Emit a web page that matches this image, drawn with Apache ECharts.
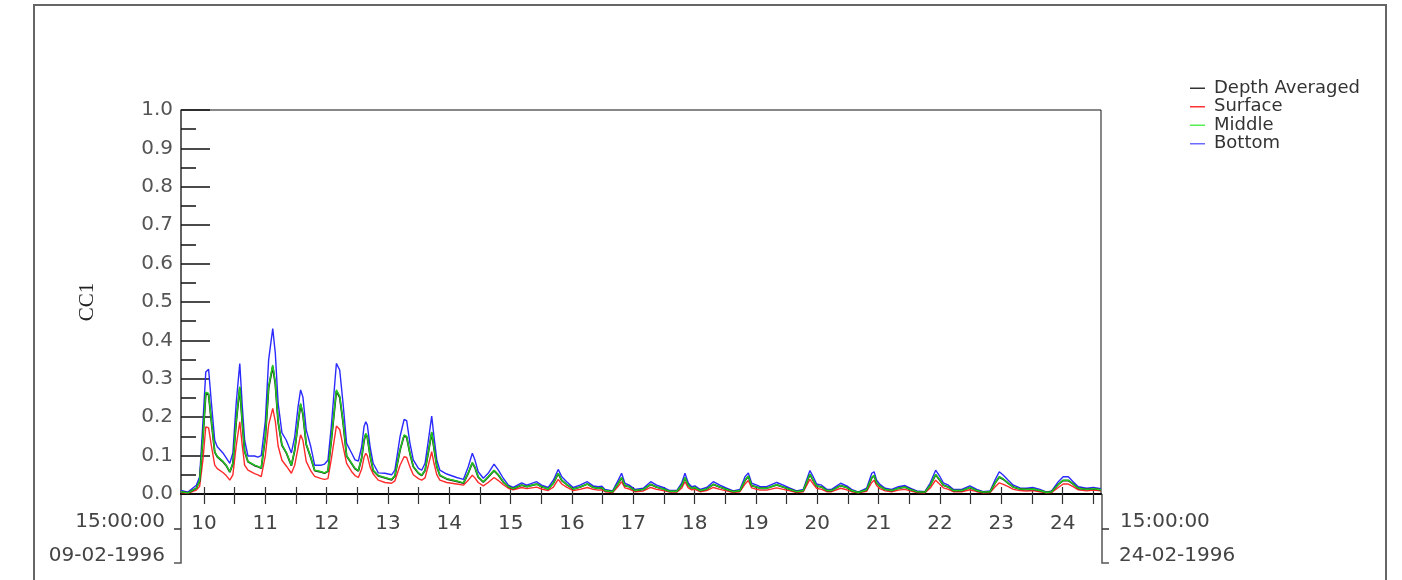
<!DOCTYPE html>
<html><head><meta charset="utf-8">
<script src="https://cdn.jsdelivr.net/npm/echarts@6/dist/echarts.min.js"></script>
<style>html,body{margin:0;padding:0;background:#fff}#c{width:1402px;height:580px}</style>
</head><body><div id="c"></div>
<script>
// hours since 09-02-1996 15:00:00
const hours = [0,2.7,6.0,7.3,8.6,9.7,10.8,11.9,13.2,14.2,
16.4,17.7,19.1,20.3,21.6,23.0,24.0,24.9,26.2,28.8,
30.1,31.4,33.0,34.3,35.9,36.9,38.0,39.5,41.2,43.2,
44.5,45.8,46.8,47.7,49.0,50.8,52.3,54.9,56.2,57.5,
58.8,60.8,62.1,63.4,64.8,66.8,68.1,69.4,70.7,71.6,
72.3,72.9,74.0,75.2,77.2,79.8,82.4,83.7,85.7,87.3,
88.3,89.6,90.9,92.9,94.2,95.5,96.8,98.1,99.0,100.1,
101.3,104.0,107.9,110.5,112.4,114.0,115.0,116.3,118.3,120.2,
122.5,124.2,126.1,128.1,130.0,133.3,135.3,139.2,141.1,143.7,
145.7,147.6,149.0,150.9,153.5,156.1,159.0,161.3,163.3,164.7,
165.9,168.9,171.1,172.4,173.7,175.4,176.1,177.6,180.9,183.8,
186.1,188.7,191.3,194.0,195.9,197.2,198.5,199.8,201.1,203.1,
205.7,208.3,210.9,213.5,216.1,218.7,220.7,222.0,223.3,225.3,
226.6,229.2,233.1,235.7,238.3,240.9,243.5,246.1,247.4,248.7,
250.7,252.7,254.6,258.1,260.5,262.4,265.0,268.3,270.3,271.2,
272.2,273.5,275.5,278.1,280.7,283.3,285.3,287.9,291.1,293.1,
295.3,297.0,298.3,300.3,302.2,305.5,308.7,311.4,313.9,316.6,
318.5,320.2,321.8,323.7,325.7,328.3,330.9,333.3,336.1,338.7,
340.7,343.3,345.2,347.2,349.1,351.1,354.4,357.0,360];

const bottomVals = [0.009,0.005,0.023,0.045,0.190,0.318,0.325,0.237,0.140,0.123,
0.107,0.094,0.080,0.107,0.237,0.340,0.227,0.140,0.099,0.099,
0.096,0.100,0.190,0.350,0.431,0.367,0.237,0.159,0.140,0.107,
0.149,0.227,0.271,0.253,0.167,0.123,0.075,0.075,0.078,0.088,
0.175,0.340,0.323,0.237,0.132,0.106,0.089,0.086,0.123,0.175,
0.188,0.180,0.123,0.080,0.055,0.054,0.050,0.062,0.149,0.194,
0.191,0.132,0.089,0.067,0.062,0.080,0.140,0.203,0.149,0.089,
0.062,0.052,0.043,0.038,0.071,0.106,0.089,0.058,0.041,0.054,
0.078,0.062,0.041,0.023,0.017,0.029,0.023,0.032,0.023,0.017,
0.036,0.064,0.045,0.032,0.017,0.023,0.032,0.021,0.019,0.020,
0.012,0.008,0.036,0.054,0.028,0.023,0.026,0.012,0.015,0.032,
0.023,0.017,0.009,0.009,0.028,0.054,0.029,0.019,0.021,0.012,
0.017,0.032,0.023,0.015,0.008,0.012,0.045,0.055,0.028,0.023,
0.019,0.019,0.030,0.023,0.015,0.008,0.012,0.061,0.045,0.026,
0.023,0.012,0.012,0.028,0.021,0.012,0.005,0.015,0.054,0.058,
0.036,0.025,0.015,0.012,0.019,0.022,0.015,0.008,0.006,0.028,
0.062,0.045,0.029,0.023,0.012,0.012,0.021,0.012,0.006,0.008,
0.036,0.058,0.049,0.036,0.023,0.016,0.015,0.017,0.012,0.005,
0.008,0.032,0.045,0.045,0.032,0.019,0.015,0.017,0.014];

const middleVals = [0.006,0.003,0.015,0.035,0.150,0.265,0.262,0.190,0.110,0.098,
0.085,0.075,0.058,0.080,0.190,0.280,0.185,0.112,0.085,0.075,
0.072,0.068,0.150,0.280,0.336,0.290,0.190,0.128,0.108,0.075,
0.115,0.185,0.236,0.210,0.130,0.095,0.062,0.058,0.055,0.060,
0.140,0.271,0.255,0.190,0.100,0.080,0.067,0.061,0.095,0.140,
0.158,0.150,0.100,0.062,0.048,0.043,0.038,0.048,0.115,0.154,
0.150,0.106,0.072,0.055,0.049,0.062,0.110,0.162,0.120,0.072,
0.049,0.040,0.034,0.029,0.055,0.082,0.070,0.045,0.032,0.045,
0.062,0.050,0.032,0.019,0.014,0.023,0.019,0.026,0.019,0.013,
0.028,0.054,0.036,0.025,0.013,0.018,0.026,0.017,0.015,0.016,
0.009,0.006,0.028,0.043,0.022,0.019,0.021,0.009,0.012,0.025,
0.018,0.013,0.007,0.007,0.022,0.043,0.023,0.015,0.017,0.009,
0.013,0.025,0.018,0.012,0.006,0.009,0.036,0.047,0.022,0.018,
0.015,0.015,0.024,0.018,0.012,0.006,0.009,0.052,0.036,0.021,
0.018,0.009,0.009,0.022,0.017,0.009,0.004,0.011,0.043,0.049,
0.029,0.020,0.012,0.009,0.015,0.018,0.012,0.006,0.005,0.022,
0.051,0.036,0.023,0.018,0.009,0.009,0.017,0.009,0.005,0.006,
0.028,0.045,0.039,0.028,0.018,0.013,0.012,0.013,0.009,0.004,
0.006,0.025,0.036,0.036,0.026,0.015,0.012,0.014,0.011];

const surfaceVals = [0.004,0.002,0.010,0.020,0.090,0.175,0.172,0.125,0.075,0.066,
0.056,0.048,0.036,0.050,0.125,0.188,0.125,0.075,0.062,0.053,
0.050,0.045,0.100,0.180,0.223,0.190,0.125,0.088,0.073,0.054,
0.075,0.120,0.154,0.140,0.085,0.060,0.046,0.040,0.038,0.040,
0.090,0.177,0.168,0.125,0.080,0.058,0.048,0.043,0.065,0.095,
0.106,0.100,0.070,0.052,0.036,0.030,0.028,0.034,0.075,0.097,
0.095,0.070,0.050,0.040,0.036,0.042,0.075,0.110,0.080,0.050,
0.036,0.030,0.026,0.023,0.036,0.049,0.042,0.030,0.021,0.030,
0.043,0.035,0.024,0.015,0.011,0.017,0.014,0.018,0.013,0.009,
0.018,0.038,0.026,0.018,0.009,0.012,0.017,0.012,0.010,0.011,
0.006,0.004,0.020,0.032,0.016,0.013,0.015,0.006,0.008,0.017,
0.012,0.009,0.005,0.005,0.015,0.032,0.016,0.011,0.012,0.006,
0.009,0.017,0.012,0.008,0.004,0.006,0.026,0.035,0.016,0.012,
0.010,0.010,0.016,0.012,0.008,0.004,0.006,0.038,0.026,0.015,
0.012,0.006,0.006,0.015,0.011,0.006,0.003,0.007,0.030,0.036,
0.022,0.014,0.008,0.006,0.010,0.012,0.008,0.004,0.003,0.015,
0.036,0.025,0.016,0.012,0.006,0.006,0.011,0.006,0.003,0.004,
0.018,0.029,0.025,0.019,0.012,0.009,0.008,0.009,0.006,0.003,
0.004,0.017,0.026,0.026,0.019,0.011,0.008,0.010,0.008];

const depthAvgVals = [0.006,0.003,0.015,0.034,0.148,0.262,0.259,0.188,0.109,0.097,
0.084,0.074,0.057,0.079,0.188,0.277,0.183,0.111,0.084,0.074,
0.071,0.067,0.148,0.277,0.332,0.287,0.188,0.127,0.107,0.074,
0.114,0.183,0.233,0.208,0.129,0.094,0.061,0.057,0.054,0.059,
0.138,0.268,0.252,0.188,0.099,0.079,0.066,0.060,0.094,0.138,
0.156,0.148,0.099,0.061,0.047,0.042,0.037,0.047,0.114,0.152,
0.148,0.105,0.071,0.054,0.048,0.061,0.109,0.160,0.119,0.071,
0.048,0.039,0.033,0.028,0.054,0.081,0.069,0.044,0.031,0.044,
0.061,0.049,0.031,0.019,0.014,0.023,0.019,0.026,0.019,0.013,
0.028,0.053,0.035,0.025,0.013,0.018,0.026,0.017,0.015,0.016,
0.009,0.006,0.028,0.042,0.022,0.019,0.021,0.009,0.012,0.025,
0.018,0.013,0.007,0.007,0.022,0.042,0.023,0.015,0.017,0.009,
0.013,0.025,0.018,0.012,0.006,0.009,0.035,0.046,0.022,0.018,
0.015,0.015,0.024,0.018,0.012,0.006,0.009,0.051,0.035,0.021,
0.018,0.009,0.009,0.022,0.017,0.009,0.004,0.011,0.042,0.048,
0.029,0.020,0.012,0.009,0.015,0.018,0.012,0.006,0.005,0.022,
0.050,0.035,0.023,0.018,0.009,0.009,0.017,0.009,0.005,0.006,
0.028,0.044,0.038,0.028,0.018,0.013,0.012,0.013,0.009,0.004,
0.006,0.025,0.035,0.035,0.026,0.015,0.012,0.014,0.011];

// x-axis: ticks every 12 h (midnight / noon), day labels at midnight
const tickHours = [9,21,33,45,57,69,81,93,105,117,129,141,153,165,177,189,201,213,225,237,249,261,273,285,297,309,321,333,345,357];
const labelHours = [9,33,57,81,105,129,153,177,201,225,249,273,297,321,345];
const dayLabels = ['10','11','12','13','14','15','16','17','18','19','20','21','22','23','24'];
const startLabels = ['15:00:00','09-02-1996'];
const endLabels = ['15:00:00','24-02-1996'];
const seriesNames = ['Depth Averaged','Surface','Middle','Bottom'];

const pair = arr => hours.map((h, i) => [h, arr[i]]);
const FONT = 'DejaVu Sans';

const chart = echarts.init(document.getElementById('c'), null, {renderer: 'canvas'});
const gl = 181, gt = 110, gw = 920, gh = 384;
const gb = gt + gh, gr = gl + gw;

chart.setOption({
  animation: false,
  backgroundColor: '#fff',
  grid: {left: gl, top: gt, width: gw, height: gh, show: true, borderColor: '#111', borderWidth: 1, containLabel: false},
  legend: {
    orient: 'vertical', left: 1185, top: 74, itemGap: 0,
    itemWidth: 15, itemHeight: 1.5, icon: 'rect',
    textStyle: {fontFamily: FONT, fontSize: 18, color: '#333', lineHeight: 18.5, padding: [0,0,0,4]},
    data: seriesNames
  },
  xAxis: [{
    type: 'value', min: 0, max: 360, position: 'bottom',
    axisLine: {show: true, onZero: false, lineStyle: {color: '#000', width: 2}},
    axisTick: {show: true, length: 10, customValues: tickHours, lineStyle: {color: '#333', width: 1.2}},
    axisLabel: {show: true, customValues: labelHours, margin: 20, fontFamily: FONT, fontSize: 20, color: '#444',
      formatter: v => dayLabels[labelHours.indexOf(Math.round(v))] || ''},
    splitLine: {show: false}
  }, {
    type: 'value', min: 0, max: 360, position: 'bottom', gridIndex: 0,
    axisLine: {show: false},
    axisTick: {show: true, inside: true, length: 7, customValues: tickHours, lineStyle: {color: '#333', width: 1.2}},
    axisLabel: {show: false},
    splitLine: {show: false}
  }],
  yAxis: {
    type: 'value', min: 0, max: 1, interval: 0.1,
    name: 'CC1', nameLocation: 'middle', nameRotate: 90, nameGap: 83,
    nameTextStyle: {fontFamily: 'Liberation Serif', fontSize: 21, color: '#222'},
    axisLine: {show: true, lineStyle: {color: '#555', width: 1.5}},
    axisTick: {show: true, inside: true, length: 29, lineStyle: {color: '#111', width: 1.5}},
    minorTick: {show: true, splitNumber: 2, length: 15, lineStyle: {color: '#111', width: 1.5}},
    axisLabel: {margin: 8, fontFamily: FONT, fontSize: 20, color: '#555', formatter: v => v.toFixed(1)},
    splitLine: {show: false}
  },
  series: [
    {name: 'Depth Averaged', type: 'line', data: pair(depthAvgVals), showSymbol: false, symbol: 'none', z: 3,
     color: '#333', lineStyle: {color: '#222', width: 1.8}},
    {name: 'Surface', type: 'line', data: pair(surfaceVals), showSymbol: false, symbol: 'none', z: 2,
     color: '#ff3333', lineStyle: {color: '#ff2a2a', width: 1.4}},
    {name: 'Middle', type: 'line', data: pair(middleVals), showSymbol: false, symbol: 'none', z: 4,
     color: '#55ee55', lineStyle: {color: '#1fcc1f', width: 1.4}},
    {name: 'Bottom', type: 'line', data: pair(bottomVals), showSymbol: false, symbol: 'none', z: 2,
     color: '#6a6aff', lineStyle: {color: '#2a2aff', width: 1.4}}
  ],
  graphic: [
    {type: 'rect', z: -10, shape: {x: 34, y: 5, width: 1352, height: 620}, style: {fill: null, stroke: '#666', lineWidth: 2}},
    {type: 'polyline', shape: {points: [[gl, gb], [gl, 563], [174, 563]]}, style: {stroke: '#555', lineWidth: 1.5, fill: null}},
    {type: 'line', shape: {x1: 174, y1: 529, x2: gl, y2: 529}, style: {stroke: '#333', lineWidth: 1.5}},
    {type: 'polyline', shape: {points: [[gr + 1, gb], [gr + 1, 563], [1109, 563]]}, style: {stroke: '#555', lineWidth: 1.5, fill: null}},
    {type: 'line', shape: {x1: gr + 1, y1: 529, x2: 1109, y2: 529}, style: {stroke: '#333', lineWidth: 1.5}},
    {type: 'text', x: 165, y: 522, style: {text: startLabels[0], font: '20px "DejaVu Sans"', fill: '#444', align: 'right', verticalAlign: 'middle'}},
    {type: 'text', x: 165, y: 556, style: {text: startLabels[1], font: '20px "DejaVu Sans"', fill: '#444', align: 'right', verticalAlign: 'middle'}},
    {type: 'text', x: 1120, y: 522, style: {text: endLabels[0], font: '20px "DejaVu Sans"', fill: '#444', align: 'left', verticalAlign: 'middle'}},
    {type: 'text', x: 1119, y: 556, style: {text: endLabels[1], font: '20px "DejaVu Sans"', fill: '#444', align: 'left', verticalAlign: 'middle'}}
  ]
});
</script></body></html>
